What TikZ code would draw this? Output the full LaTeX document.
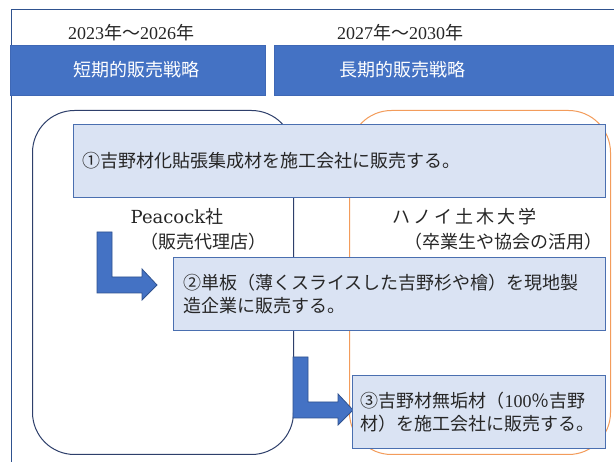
\documentclass[tikz,border=0pt]{standalone}
\usepackage{fontspec}
\setmainfont{Liberation Serif}
\newfontfamily\jp{Noto Sans CJK JP}
\newfontfamily\wideserif{DejaVu Serif}
\definecolor{hdr}{HTML}{4472C4}
\definecolor{hdrline}{HTML}{3F68B5}
\definecolor{framecol}{HTML}{2F528F}
\definecolor{boxfill}{HTML}{DAE3F3}
\definecolor{boxline}{HTML}{4A6FB0}
\definecolor{navy}{HTML}{2E3F6B}
\definecolor{orng}{HTML}{F39C5B}
\definecolor{txt}{HTML}{262626}
\definecolor{arrline}{HTML}{2F528F}
\begin{document}
\begin{tikzpicture}[x=1pt,y=-1pt,
  every node/.style={text=txt, font=\fontsize{18}{23.5}\selectfont},
  hdrbox/.style={fill=hdr, draw=hdrline, line width=0.6pt, anchor=north west, inner sep=0pt, minimum height=50pt},
  hdrtext/.style={text=white, font=\jp\fontsize{18}{22}\selectfont},
  grp/.style={line width=1pt, rounded corners=42pt, anchor=north west, inner sep=0pt},
  sbox/.style={draw=boxline, fill=boxfill, line width=1pt, anchor=north west, inner ysep=0pt,
    minimum height=73pt, align=left, font=\jp\fontsize{18}{23.5}\selectfont},
  bentarrow/.style={fill=hdr, draw=arrline, line width=0.8pt, line join=miter}
]
\useasboundingbox (0,0) rectangle (614,462);
\fill[white] (0,0) rectangle (614,462);

% outer frame
\coordinate (fb) at (11,470);
\coordinate (ftl) at (11,10);
\coordinate (fr) at (620,10);
\draw[framecol, line width=1pt] (fb) -- (ftl) -- (fr);

% year labels
\node (yL) at (131,33) {2023{\jp 年～}2026{\jp 年}};
\node (yR) at (400,33) {2027{\jp 年～}2030{\jp 年}};

% headers
\node[hdrbox, minimum width=255pt] (hL) at (10,45) {};
\node[hdrtext] (hLt) at (137,70) {短期的販売戦略};
\node[hdrbox, minimum width=350pt] (hR) at (274,45) {};
\node[hdrtext] (hRt) at (402,70) {長期的販売戦略};

% group outlines
\node[grp, draw=navy, minimum width=261pt, minimum height=344pt] (gL) at (32,110) {};
\node[grp, draw=orng, minimum width=261pt, minimum height=344pt] (gR) at (349,110) {};

% group labels
\node (pc) at (177,217) {{\wideserif Peacock}{\jp 社}};
\node (pc2) at (203.5,242) {\jp （販売代理店）};
\node (hn) at (464.5,217) {\jp ハ\hspace{3pt}ノ\hspace{3pt}イ\hspace{3pt}土\hspace{3pt}木\hspace{3pt}大\hspace{3pt}学};
\node (hn2) at (503.5,242) {\jp （卒業生や協会の活用）};

% bent arrows
\draw[bentarrow] (97,232) -- (112,232) -- (112,277) -- (142,277) -- (142,269) -- (157,285)
  -- (142,300) -- (142,293) -- (97,293) -- cycle;
\draw[bentarrow] (293,357) -- (308,357) -- (308,402) -- (338,402) -- (338,394) -- (353,410)
  -- (338,425) -- (338,418) -- (293,418) -- cycle;

% strategy boxes
\node[sbox, inner xsep=9pt, text width=514pt] (b1) at (73,124)
  {①吉野材化貼張集成材を施工会社に販売する。};
\node[sbox, inner xsep=10pt, text width=412pt] (b2) at (173,257)
  {②単板（薄くスライスした吉野杉や檜）を現地製\\造企業に販売する。};
\node[sbox, inner xsep=8pt, text width=237pt] (b3) at (352,375)
  {③吉野材無垢材（{\rmfamily 100}％吉野\\材）を施工会社に販売する。};
\end{tikzpicture}
\end{document}
